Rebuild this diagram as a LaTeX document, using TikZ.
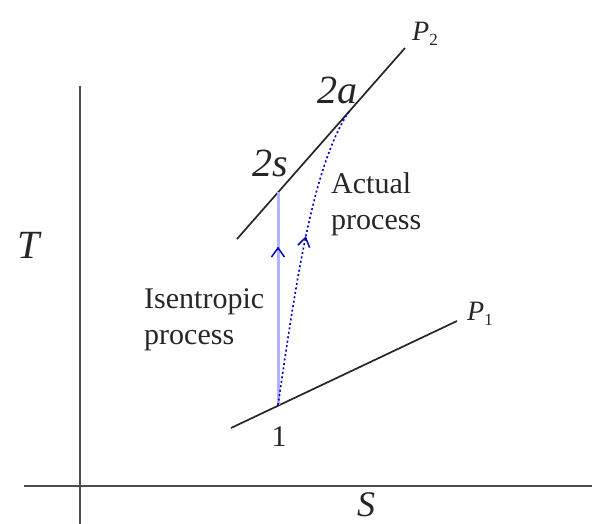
\documentclass[tikz,border=0pt]{standalone}
\usepackage{fontspec}
\setmainfont{Liberation Serif}
\usetikzlibrary{arrows.meta,decorations.markings}
\tikzset{
  axisline/.style={line width=2pt,black!70},
  isobar/.style={line width=1.7pt,black!85},
  isen/.style={line width=3pt,blue!30!white,
    postaction={decorate},
    decoration={markings,mark=at position 0.745 with {\arrow[blue!75!black,line width=1.5pt]{Straight Barb[length=9pt,width=13pt]}}}},
  actual/.style={line width=1.6pt,blue!75!black,dash pattern=on 2pt off 2.5pt,
    postaction={decorate},
    decoration={markings,mark=at position 0.56 with {\arrow[blue!75!black,line width=1.5pt,solid]{Straight Barb[length=9pt,width=12pt]}}}},
  lbl/.style={font=\fontsize{30}{36}\selectfont,text=black!85,inner sep=0pt},
  big/.style={font=\fontsize{40}{44}\selectfont\itshape,text=black!85,inner sep=0pt},
  pl/.style={font=\fontsize{28}{30}\selectfont,text=black!85,inner sep=0pt},
}
\newcommand{\psub}[1]{\textit{P}\raisebox{-0.4ex}{\fontsize{17}{17}\selectfont #1}}
\begin{document}
\begin{tikzpicture}[x=1pt,y=-1pt]
\useasboundingbox (0,0) rectangle (592,524);
% axes
\coordinate (ytop) at (80,86);
\coordinate (ybot) at (80,524);
\coordinate (xl) at (24,486);
\coordinate (xr) at (592,486);
\draw[axisline] (ytop) -- (ybot);
\draw[axisline] (xl) -- (xr);
\node[big] (Tl) at (29,245) {T};
\node[big,font=\fontsize{36}{40}\selectfont\itshape] (Sl) at (366,505) {S};
% isobars
\coordinate (a1) at (231,428);
\coordinate (b1) at (457,321);
\coordinate (a2) at (237,239);
\coordinate (b2) at (405,48);
\draw[isobar] (a1) -- (b1);
\draw[isobar] (a2) -- (b2);
\node[pl,anchor=west] (P1) at (467,314) {\psub{1}};
\node[pl,anchor=west] (P2) at (412,34) {\psub{2}};
% states
\coordinate (s1) at (278,405);
\coordinate (s2s) at (278,192.5);
\coordinate (s2a) at (350,110);
\node[lbl] (l1) at (279,437) {1};
\node[big] (l2s) at (270,163) {2\textit{s}};
\node[big] (l2a) at (337,90) {2\textit{a}};
% processes
\draw[isen] (s1) -- (s2s);
\draw[actual] (s1) .. controls (295,290) and (312,165) .. (s2a);
\node[lbl,align=left,anchor=west] (iso) at (144,320) {Isentropic\\process};
\node[lbl,align=left,anchor=west] (act) at (331,204) {Actual\\process};
\end{tikzpicture}
\end{document}
